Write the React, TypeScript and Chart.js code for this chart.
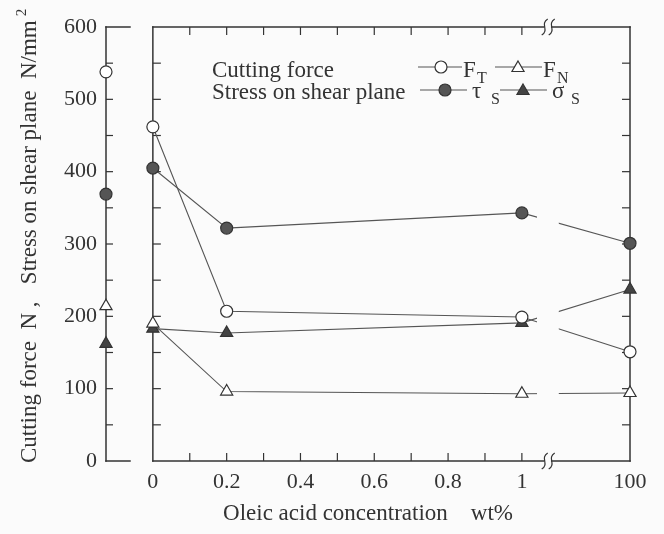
import React, { useEffect, useRef } from 'react';
import { Chart, registerables } from 'chart.js';

Chart.register(...registerables);

// ---- axis layout (positions on the linear x scale) ----
const X_DRY = -0.127; // "dry" column on the separate left axis
const X_100 = 1.293; // 100 wt% column after the axis break
const X_BREAK = 1.07; // break symbol position
const GAP_FROM = 1.041; // lines are interrupted across the break
const GAP_TO = 1.1;

// ---- data ----
const concentrations = [X_DRY, 0, 0.2, 1, X_100];
const FT = [538, 462, 207, 199, 151];
const FN = [214, 190, 96, 93, 94];
const tauS = [369, 405, 322, 343, 301];
const sigmaS = [162, 183, 177, 191, 237];

const xTickValues = [0, 0.2, 0.4, 0.6, 0.8, 1, X_100];
const xTickLabels = ['0', '0.2', '0.4', '0.6', '0.8', '1', '100'];
const xMinorTicks = [0.1, 0.2, 0.3, 0.4, 0.5, 0.6, 0.7, 0.8, 0.9, 1];
const yTickValues = [0, 100, 200, 300, 400, 500, 600];
const yMinorTicks = [50, 100, 150, 200, 250, 300, 350, 400, 450, 500, 550];

const SERIF = '"Liberation Serif", "Times New Roman", serif';
const INK = '#333';
const LINE = '#555';
const BG = '#fbfbfb';

function makeDataset(label: string, values: number[], style: string, fill: string, r: number) {
  return {
    label,
    data: values.map((y, i) => ({ x: concentrations[i], y })),
    pointStyle: style,
    pointRadius: r,
    pointBackgroundColor: fill,
    pointBorderColor: INK,
    pointBorderWidth: 1.2,
    borderColor: LINE,
    borderWidth: 1.1,
    fill: false,
    tension: 0,
    clip: false,
    segment: {
      borderColor: (ctx: any) => (ctx.p0DataIndex === 0 ? 'rgba(0,0,0,0)' : undefined),
    },
  };
}

function drawMarker(ctx: CanvasRenderingContext2D, kind: string, x: number, y: number, r: number, fill: string) {
  ctx.beginPath();
  if (kind === 'circle') {
    ctx.arc(x, y, r, 0, Math.PI * 2);
  } else {
    let a = 0;
    ctx.moveTo(x + Math.sin(a) * r, y - Math.cos(a) * r);
    a += (2 * Math.PI) / 3;
    ctx.lineTo(x + Math.sin(a) * r, y - Math.cos(a) * r);
    a += (2 * Math.PI) / 3;
    ctx.lineTo(x + Math.sin(a) * r, y - Math.cos(a) * r);
    ctx.closePath();
  }
  ctx.fillStyle = fill;
  ctx.fill();
  ctx.lineWidth = 1.2;
  ctx.strokeStyle = INK;
  ctx.stroke();
}

const framePlugin = {
  id: 'frame',
  beforeDraw(chart: any) {
    const ctx = chart.ctx as CanvasRenderingContext2D;
    ctx.save();
    ctx.fillStyle = BG;
    ctx.fillRect(0, 0, chart.width, chart.height);
    ctx.restore();
  },
  beforeDatasetsDraw(chart: any) {
    const ctx = chart.ctx as CanvasRenderingContext2D;
    const xs = chart.scales.x;
    const ys = chart.scales.y;
    const X = (v: number) => xs.getPixelForValue(v);
    const Y = (v: number) => ys.getPixelForValue(v);
    const top = Y(600);
    const bot = Y(0);
    const xd = X(X_DRY);
    const x0 = X(0);
    const x1 = X(X_100);
    const xb = X(X_BREAK);
    const seg = (a: number, b: number, c: number, d: number) => {
      ctx.beginPath();
      ctx.moveTo(a, b);
      ctx.lineTo(c, d);
      ctx.stroke();
    };
    ctx.save();
    ctx.strokeStyle = INK;
    ctx.lineWidth = 1.5;
    ctx.lineCap = 'square';
    // dry axis
    seg(xd, top, xd, bot);
    seg(xd, top, xd + 24, top);
    seg(xd, bot, xd + 24, bot);
    // main frame
    seg(x0, top, x0, bot);
    seg(x1, top, x1, bot);
    seg(x0, top, xb - 4, top);
    seg(xb + 4, top, x1, top);
    seg(x0, bot, xb - 4, bot);
    seg(xb + 4, bot, x1, bot);
    ctx.lineWidth = 1.2;
    ctx.lineCap = 'butt';
    for (const v of yMinorTicks) {
      const y = Y(v);
      seg(xd, y, xd + 7, y);
      seg(x0, y, x0 + 8, y);
      seg(x1, y, x1 - 8, y);
    }
    for (const v of xMinorTicks) {
      const x = X(v);
      seg(x, bot, x, bot - 8);
      seg(x, top, x, top + 8);
    }
    ctx.restore();
  },
  afterDatasetsDraw(chart: any) {
    const ctx = chart.ctx as CanvasRenderingContext2D;
    const xs = chart.scales.x;
    const ys = chart.scales.y;
    const X = (v: number) => xs.getPixelForValue(v);
    const Y = (v: number) => ys.getPixelForValue(v);
    const top = Y(600);
    const bot = Y(0);
    const xb = X(X_BREAK);
    ctx.save();
    // interruption of the lines across the break
    ctx.fillStyle = BG;
    ctx.fillRect(X(GAP_FROM), top + 2, X(GAP_TO) - X(GAP_FROM), bot - top - 4);
    // break symbols
    ctx.strokeStyle = INK;
    ctx.lineWidth = 1.2;
    const squiggle = (cx: number, cy: number) => {
      ctx.beginPath();
      ctx.moveTo(cx - 3, cy + 8);
      ctx.bezierCurveTo(cx + 5, cy + 3, cx - 5, cy - 3, cx + 3, cy - 8);
      ctx.stroke();
    };
    for (const cy of [top, bot]) {
      squiggle(xb - 3, cy);
      squiggle(xb + 4, cy);
    }

    // legend
    ctx.fillStyle = INK;
    ctx.textBaseline = 'alphabetic';
    ctx.textAlign = 'left';
    ctx.font = `23px ${SERIF}`;
    ctx.fillText('Cutting force', 212, 77);
    ctx.fillText('Stress on shear plane', 212, 99);
    const hline = (a: number, b: number, y: number) => {
      ctx.beginPath();
      ctx.moveTo(a, y);
      ctx.lineTo(b, y);
      ctx.strokeStyle = LINE;
      ctx.lineWidth = 1.2;
      ctx.stroke();
    };
    // row 1
    hline(418, 462, 67);
    drawMarker(ctx, 'circle', 441, 67, 6, '#fff');
    hline(495, 542, 67);
    drawMarker(ctx, 'triangle', 518, 68, 7, '#fff');
    // row 2
    hline(420, 467, 90);
    drawMarker(ctx, 'circle', 445, 90, 6, '#555');
    hline(500, 547, 90);
    drawMarker(ctx, 'triangle', 523, 91, 7, '#444');
    ctx.fillStyle = INK;
    ctx.font = `23px ${SERIF}`;
    ctx.fillText('F', 463, 77);
    ctx.fillText('F', 543, 77);
    ctx.fillText('\u03c4', 472, 98);
    ctx.fillText('\u03c3', 552, 98);
    ctx.font = `16px ${SERIF}`;
    ctx.fillText('T', 477, 83);
    ctx.fillText('N', 557, 83);
    ctx.fillText('S', 491, 104);
    ctx.fillText('S', 571, 104);

    // axis titles
    ctx.font = `23px ${SERIF}`;
    ctx.textAlign = 'center';
    ctx.textBaseline = 'middle';
    ctx.fillText('Oleic acid concentration    wt%', 368, 514);

    ctx.translate(30, 463);
    ctx.rotate(-Math.PI / 2);
    ctx.textAlign = 'left';
    ctx.font = `23px ${SERIF}`;
    const yTitle = 'Cutting force  N ,   Stress on shear plane  N/mm';
    ctx.fillText(yTitle, 0, 0);
    const w = ctx.measureText(yTitle).width;
    ctx.font = `15px ${SERIF}`;
    ctx.fillText('2', w + 4, -8);
    ctx.restore();
  },
};

export default function App() {
  const canvasRef = useRef<HTMLCanvasElement | null>(null);

  useEffect(() => {
    const canvas = canvasRef.current;
    if (!canvas) return;
    const tickFont = { family: SERIF, size: 22 };
    const chart = new Chart(canvas, {
      type: 'line',
      data: {
        datasets: [
          makeDataset('F_T', FT, 'circle', '#fff', 6),
          makeDataset('F_N', FN, 'triangle', '#fff', 7),
          makeDataset('tau_s', tauS, 'circle', '#555', 6),
          makeDataset('sigma_s', sigmaS, 'triangle', '#444', 7),
        ] as any,
      },
      options: {
        animation: false,
        responsive: false,
        devicePixelRatio: 1,
        events: [],
        layout: { padding: { left: 0, right: 34, top: 27, bottom: 0 } },
        plugins: {
          legend: { display: false },
          tooltip: { enabled: false },
          title: { display: false },
        },
        scales: {
          x: {
            type: 'linear',
            min: X_DRY,
            max: X_100,
            afterBuildTicks: (s: any) => {
              s.ticks = xTickValues.map((value) => ({ value }));
            },
            afterFit: (s: any) => {
              s.height = 73;
            },
            ticks: {
              autoSkip: false,
              maxRotation: 0,
              minRotation: 0,
              color: INK,
              font: tickFont,
              padding: 8,
              callback: (_v: any, i: number) => xTickLabels[i],
            },
            grid: { display: false, drawTicks: false },
            border: { display: false },
          },
          y: {
            type: 'linear',
            min: 0,
            max: 600,
            afterBuildTicks: (s: any) => {
              s.ticks = yTickValues.map((value) => ({ value }));
            },
            afterFit: (s: any) => {
              s.width = 106;
            },
            ticks: {
              color: INK,
              font: tickFont,
              padding: 9,
              callback: (v: any) => String(v),
            },
            grid: { display: false, drawTicks: false },
            border: { display: false },
          },
        },
      } as any,
      plugins: [framePlugin],
    });
    return () => chart.destroy();
  }, []);

  return (
    <div style={{ position: 'absolute', left: 0, top: 0, width: 664, height: 534 }}>
      <canvas ref={canvasRef} width={664} height={534} style={{ display: 'block' }} />
    </div>
  );
}
